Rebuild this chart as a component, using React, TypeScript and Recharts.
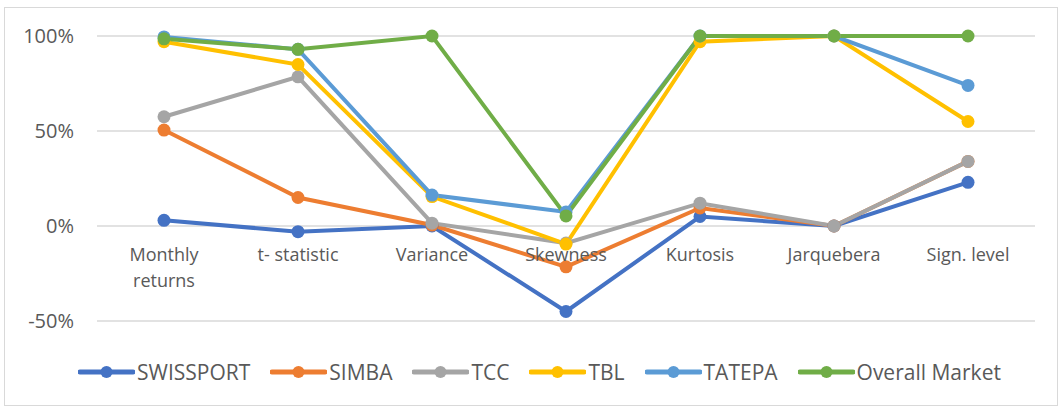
import React from 'react';
import { LineChart, Line, XAxis, YAxis, CartesianGrid } from 'recharts';

const categories = ['Monthly returns', 't- statistic', 'Variance', 'Skewness', 'Kurtosis', 'Jarquebera', 'Sign. level'];
const swissport = [0.03, -0.03, 0, -0.45, 0.05, 0, 0.23];
const simba = [0.505, 0.15, 0.005, -0.215, 0.095, 0, 0.34];
const tcc = [0.575, 0.785, 0.015, -0.09, 0.12, 0, 0.34];
const tbl = [0.97, 0.85, 0.155, -0.095, 0.97, 1, 0.55];
const tatepa = [0.995, 0.93, 0.163, 0.074, 1, 1, 0.74];
const overall = [0.985, 0.93, 1, 0.053, 1, 1, 1];
const yTicks = [-0.5, 0, 0.5, 1];

const SERIES = [
  { key: 'SWISSPORT', values: swissport, color: '#4472C4' },
  { key: 'SIMBA', values: simba, color: '#ED7D31' },
  { key: 'TCC', values: tcc, color: '#A5A5A5' },
  { key: 'TBL', values: tbl, color: '#FFC000' },
  { key: 'TATEPA', values: tatepa, color: '#5B9BD5' },
  { key: 'Overall Market', values: overall, color: '#70AD47' },
];

const rows = categories.map((c, i) => {
  const r: any = { name: c };
  SERIES.forEach((s) => { r[s.key] = s.values[i]; });
  return r;
});

const W = 1061;
const H = 409;
const MARGIN = { top: 36, right: 26, bottom: 87, left: 0 };
const Y_MIN = -0.5;
const Y_MAX = 1;
const FONT = '"Open Sans", sans-serif';
const TEXT = '#595959';

const plotH = H - MARGIN.top - MARGIN.bottom - 1;
const zeroY = MARGIN.top + plotH * (Y_MAX / (Y_MAX - Y_MIN));
const band = (W - 97 - MARGIN.right) / categories.length;

// category labels sit under the 0% line, like Excel does
const CategoryTick = (props: any) => {
  const { x, payload } = props;
  const label: string = payload.value;
  const lines = label.length > 12 ? label.split(' ') : [label];
  return (
    <text x={x} y={zeroY + 35} textAnchor="middle" fill={TEXT} fontSize={18} fontFamily={FONT}>
      {lines.map((l, i) => (
        <tspan key={i} x={x} dy={i === 0 ? 0 : 26}>{l}</tspan>
      ))}
    </text>
  );
};

const LegendRow = () => (
  <div style={{ position: 'absolute', left: 78, top: 358, display: 'flex', alignItems: 'center', gap: 20, fontFamily: FONT, fontSize: 21, color: TEXT, whiteSpace: 'nowrap' }}>
    {SERIES.map((s) => (
      <div key={s.key} style={{ display: 'flex', alignItems: 'center', gap: 2 }}>
        <svg width={57} height={14}>
          <line x1={2} y1={7} x2={55} y2={7} stroke={s.color} strokeWidth={5} strokeLinecap="round" />
          <circle cx={28.5} cy={7} r={6} fill={s.color} />
        </svg>
        <span>{s.key}</span>
      </div>
    ))}
  </div>
);

export default function App() {
  return (
    <div style={{ position: 'absolute', left: 0, top: 0, width: W, height: H, background: '#fff' }}>
      <div style={{ position: 'absolute', left: 4, top: 7, width: 1052, height: 397, border: '1px solid #D9D9D9' }} />
      <LineChart width={W} height={H} data={rows} margin={MARGIN}>
        <CartesianGrid vertical={false} stroke="#D9D9D9" strokeWidth={1.5} />
        <XAxis
          dataKey="name"
          axisLine={false}
          tickLine={false}
          tick={<CategoryTick />}
          interval={0}
          height={1}
          padding={{ left: band / 2, right: band / 2 }}
        />
        <YAxis
          domain={[Y_MIN, Y_MAX]}
          ticks={yTicks}
          width={97}
          axisLine={false}
          tickLine={false}
          tickMargin={17}
          tickFormatter={(v: number) => `${Math.round(v * 100)}%`}
          tick={{ fill: TEXT, fontSize: 20, fontFamily: FONT }}
        />
        {SERIES.map((s) => (
          <Line
            key={s.key}
            dataKey={s.key}
            stroke={s.color}
            strokeWidth={4}
            dot={{ r: 6.5, fill: s.color, stroke: s.color, strokeWidth: 0 }}
            activeDot={false}
            isAnimationActive={false}
          />
        ))}
      </LineChart>
      <LegendRow />
    </div>
  );
}
